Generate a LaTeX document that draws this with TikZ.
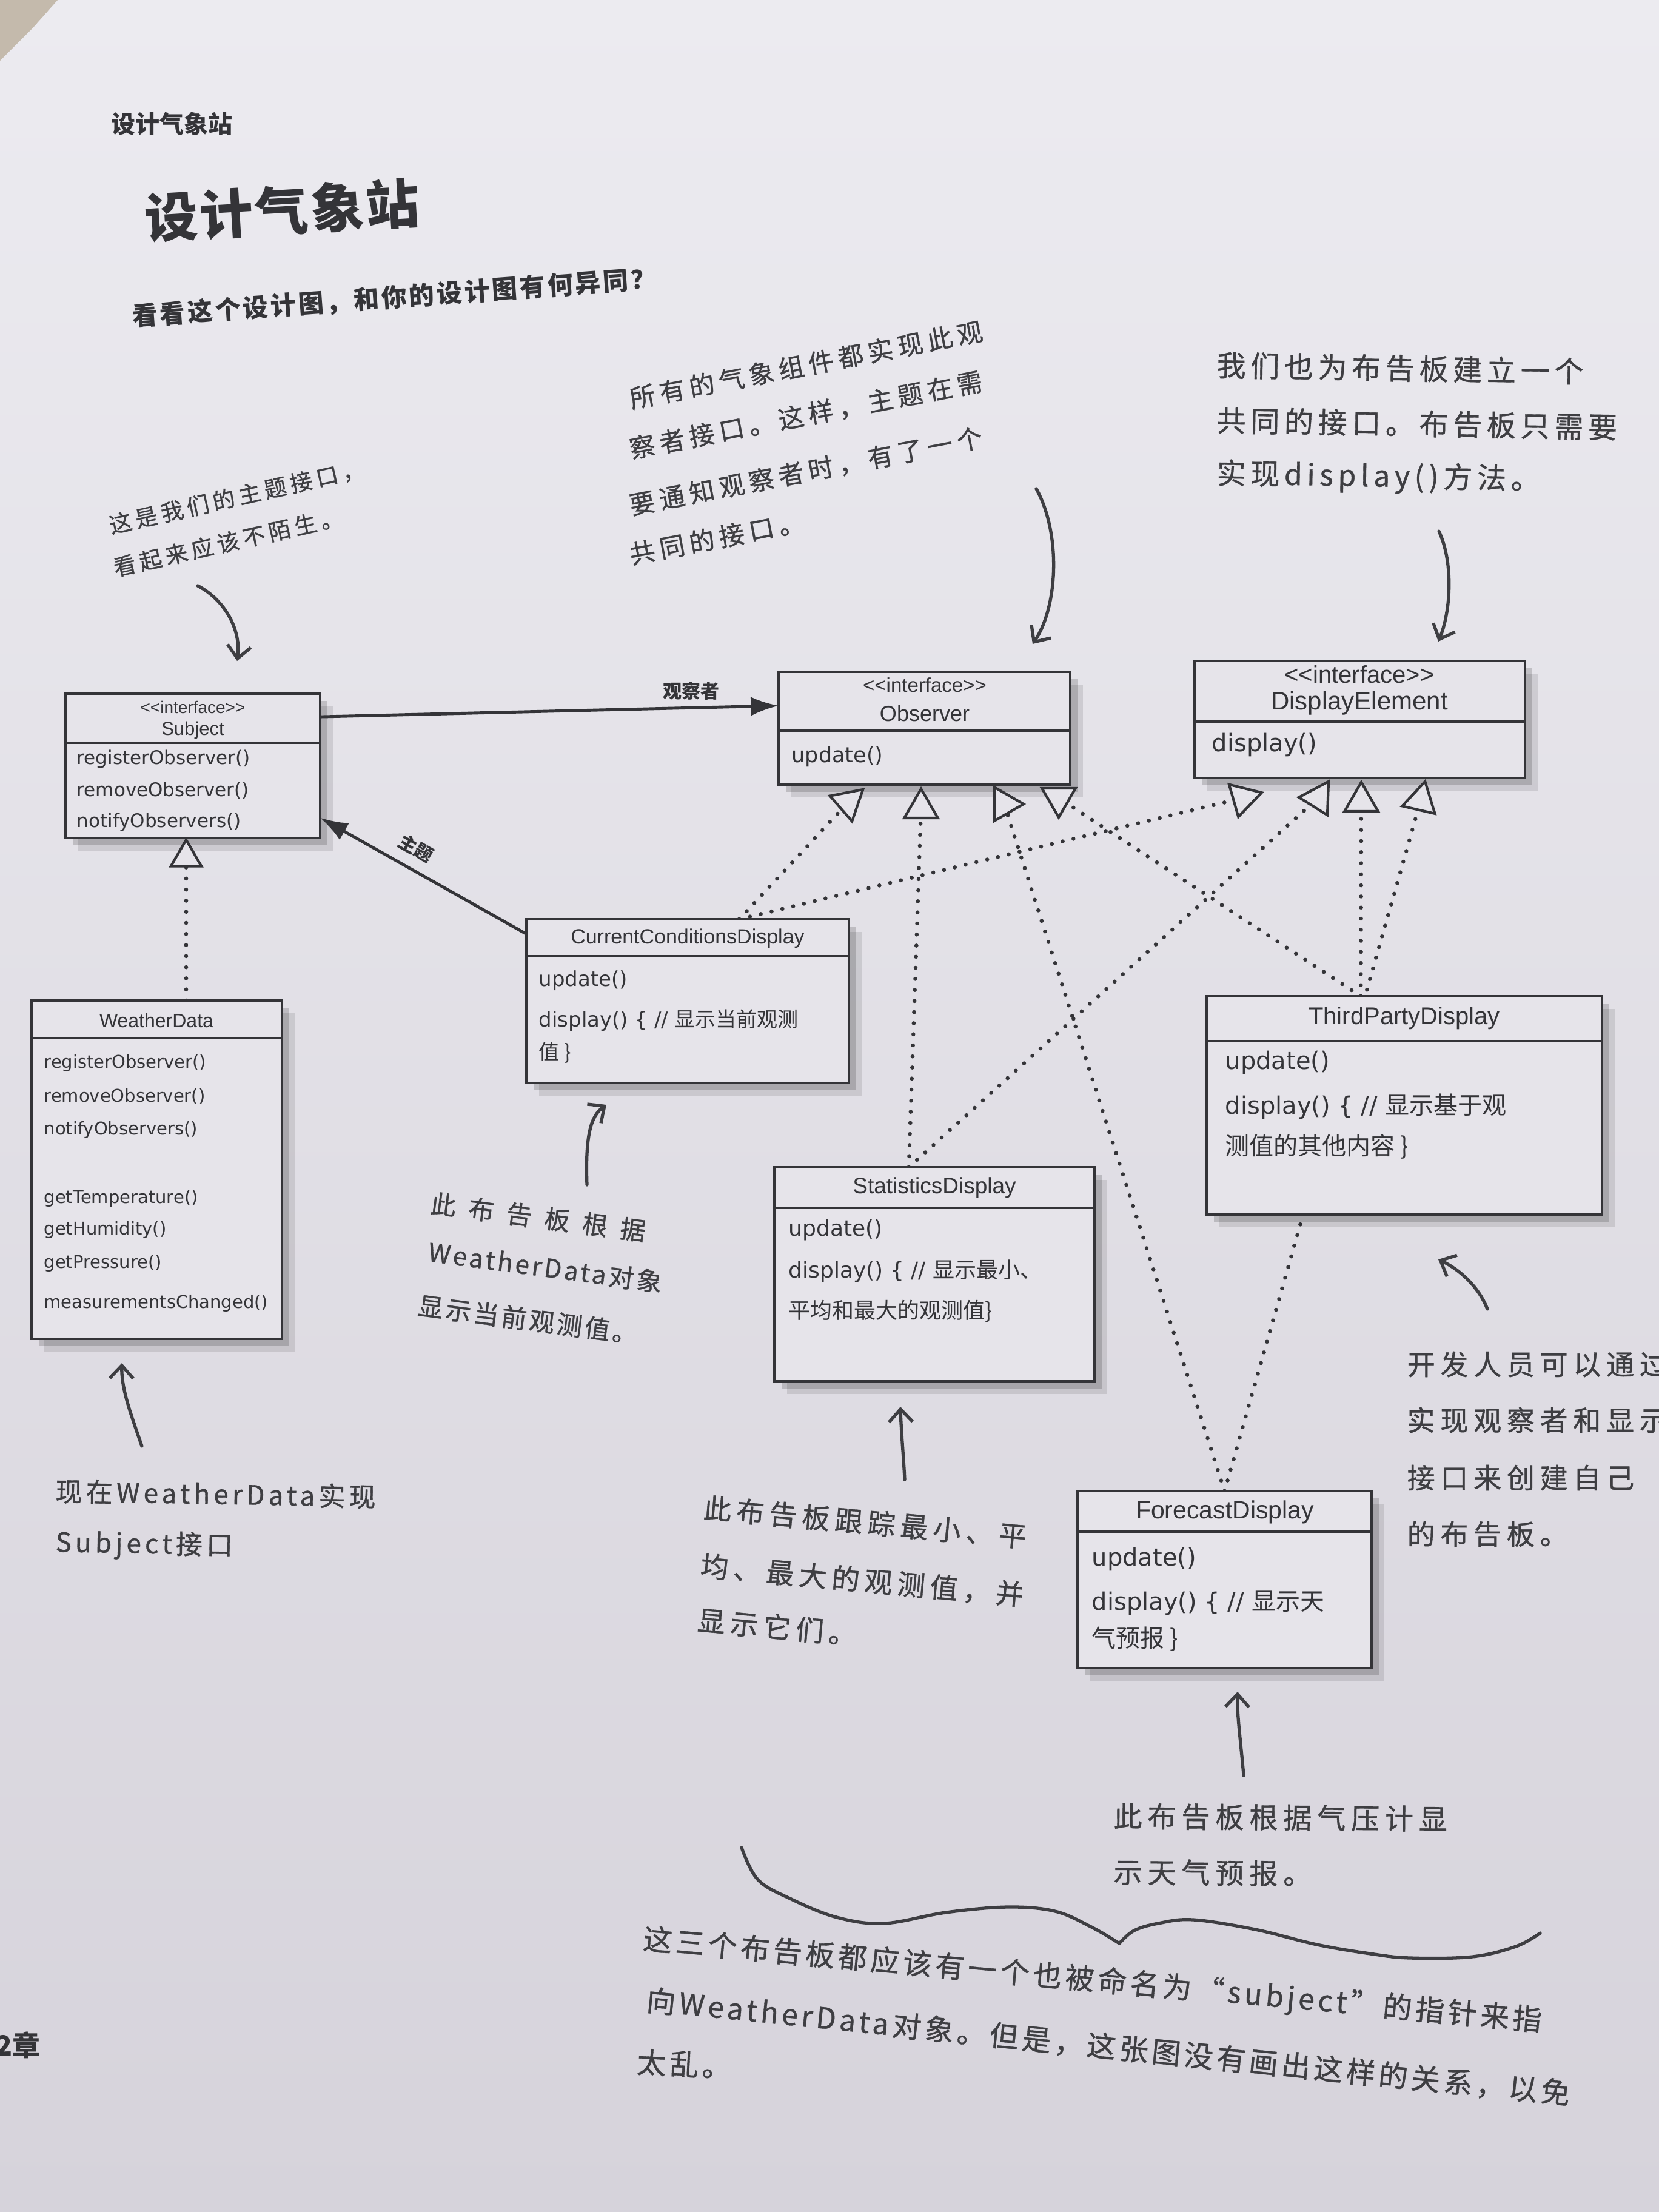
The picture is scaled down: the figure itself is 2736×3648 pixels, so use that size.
\documentclass[tikz,border=0pt]{standalone}
\usepackage{fontspec}
\setmainfont{Liberation Sans}
\newfontfamily\cjk{Noto Sans CJK SC}
\newfontfamily\methf{DejaVu Sans}
\usetikzlibrary{arrows.meta,calc,shapes.geometric,shadows}
\pgfdeclarelayer{back}
\pgfdeclarelayer{lines}
\pgfsetlayers{back,lines,main}
\newlength\upx
\setlength\upx{0.01cm}
\newcommand\pxs[1]{\fontsize{#1\upx}{#1\upx}\selectfont}
\definecolor{ink}{RGB}{52,52,56}
\definecolor{handink}{RGB}{62,62,66}
\definecolor{bgtop}{RGB}{236,235,240}
\definecolor{bgbot}{RGB}{214,211,219}
\definecolor{boxfill}{RGB}{230,228,234}
\definecolor{edge}{RGB}{196,186,172}
\tikzset{
  classbox/.style={draw=ink, line width=1pt, fill=boxfill, rectangle, inner sep=0pt, outer sep=0pt, anchor=north west,
    drop shadow={shadow xshift=6pt, shadow yshift=-6pt, opacity=0.10, fill=black},
    drop shadow={shadow xshift=3.5pt, shadow yshift=-3.5pt, opacity=0.16, fill=black}},
  divider/.style={draw=ink, line width=1pt},
  ttl/.style={inner sep=0pt, text=ink},
  mth/.style={inner sep=0pt, text=ink, anchor=west},
  realize/.style={draw=ink, line width=1.9pt, line cap=round, dash pattern=on 0pt off 5.2pt},
  tri/.style={regular polygon, regular polygon sides=3, draw=ink, line width=1.2pt, fill=boxfill, inner sep=0pt, minimum size=64\upx},
  assoc/.style={draw=ink, line width=1.4pt, -{Latex[length=13pt,width=9pt]}},
  harrow/.style={draw=handink, line width=1.5pt, line cap=round, line join=round, -{Straight Barb[length=6pt,width=11pt,line width=1.5pt]}},
  hand/.style 2 args={inner sep=0pt, anchor=west, text=handink, font=\cjk\pxs{#1}\addfontfeatures{LetterSpace=#2,FakeBold=0.8}},
}
\begin{document}
\begin{tikzpicture}[x=0.01cm,y=-0.01cm]
\useasboundingbox (0,0) rectangle (2736,3648);
\begin{pgfonlayer}{back}
\shade[top color=bgtop, bottom color=bgbot] (0,0) rectangle (2736,3648);
\fill[edge] (0,0) -- (95,0) -- (55,45) -- (0,100) -- cycle;
\end{pgfonlayer}

% ---------- headings ----------
\node[ttl, font=\cjk\bfseries\pxs{40}] (hdr) at (283,204) {设计气象站};
\node[ttl, font=\cjk\bfseries\pxs{88}\addfontfeatures{LetterSpace=4}, rotate=3.4] (title) at (465,347) {设计气象站};
\node[ttl, font=\cjk\bfseries\pxs{42}\addfontfeatures{LetterSpace=9}, rotate=4.2] (subtitle) at (650,491) {看看这个设计图，和你的设计图有何异同？};
\node[ttl, anchor=west, font=\cjk\bfseries\pxs{46}] (pg) at (-8,3373) {2章};

% ---------- handwritten notes ----------
\node[hand={37}{18}, rotate=12.8] (a1a) at (180,867) {这是我们的主题接口，};
\node[hand={37}{18}, rotate=12.8] (a1b) at (187,937) {看起来应该不陌生。};

\node[hand={42}{19}, rotate=11] (a2a) at (1038,658) {所有的气象组件都实现此观};
\node[hand={42}{19}, rotate=11] (a2b) at (1038,741) {察者接口。这样，主题在需};
\node[hand={42}{19}, rotate=11] (a2c) at (1038,834) {要通知观察者时，有了一个};
\node[hand={42}{19}, rotate=11] (a2d) at (1038,915) {共同的接口。};

\node[hand={48}{16}, rotate=-1] (a3a) at (2006,602) {我们也为布告板建立一个};
\node[hand={48}{16}, rotate=-1] (a3b) at (2006,693) {共同的接口。布告板只需要};
\node[hand={48}{16}, rotate=-1] (a3c) at (2006,783) {实现display()方法。};

\node[hand={42}{50}, rotate=-7.5] (a4a) at (710,1984) {此布告板根据};
\node[hand={42}{10}, rotate=-7.5] (a4b) at (706,2064) {WeatherData对象};
\node[hand={42}{10}, rotate=-7.5] (a4c) at (689,2152) {显示当前观测值。};

\node[hand={44}{14}, rotate=-1] (a5a) at (91,2459) {现在WeatherData实现};
\node[hand={44}{14}, rotate=-1] (a5b) at (91,2546) {Subject接口};

\node[hand={46}{18}, rotate=-5.2] (a6a) at (1160,2486) {此布告板跟踪最小、平};
\node[hand={46}{18}, rotate=-5.2] (a6b) at (1155,2582) {均、最大的观测值，并};
\node[hand={46}{18}, rotate=-5.2] (a6c) at (1150,2671) {显示它们。};

\node[hand={47}{19}, rotate=-0.5] (a7a) at (1836,2995) {此布告板根据气压计显};
\node[hand={47}{19}, rotate=-0.5] (a7b) at (1836,3087) {示天气预报。};

\node[hand={46}{19}] (a8a) at (2320,2250) {开发人员可以通过};
\node[hand={46}{19}] (a8b) at (2320,2342) {实现观察者和显示};
\node[hand={46}{19}] (a8c) at (2320,2437) {接口来创建自己};
\node[hand={46}{19}] (a8d) at (2320,2530) {的布告板。};

\node[hand={48}{12}, rotate=-5.2] (a9a) at (1060,3200) {这三个布告板都应该有一个也被命名为“subject”的指针来指};
\node[hand={48}{12}, rotate=-5.8] (a9b) at (1066,3298) {向WeatherData对象。但是，这张图没有画出这样的关系，以免};
\node[hand={48}{12}, rotate=-3] (a9c) at (1050,3400) {太乱。};

% wavy brace
\draw[handink, line width=1.5pt, line cap=round, line join=round] plot[smooth, tension=0.6] coordinates {(1223,3047) (1250,3100) (1305,3132) (1380,3162) (1458,3172) (1560,3154) (1662,3145) (1740,3152) (1800,3178) (1846,3205)};
\draw[handink, line width=1.5pt, line cap=round, line join=round] plot[smooth, tension=0.6] coordinates {(1846,3205) (1870,3184) (1910,3172) (1968,3166) (2070,3182) (2172,3207) (2260,3222) (2326,3229) (2428,3227) (2500,3210) (2540,3188)};

% hand arrows
\coordinate (h1s) at (326,966);   \coordinate (h1e) at (391,1090);
\coordinate (h2s) at (1709,806);  \coordinate (h2e) at (1703,1062);
\coordinate (h3s) at (2373,876);  \coordinate (h3e) at (2372,1058);
\coordinate (h4s) at (968,1954);  \coordinate (h4e) at (1000,1822);
\coordinate (h5s) at (234,2385);  \coordinate (h5e) at (201,2248);
\coordinate (h6s) at (1492,2440); \coordinate (h6e) at (1485,2320);
\coordinate (h7s) at (2051,2928); \coordinate (h7e) at (2041,2790);
\coordinate (h8s) at (2453,2159); \coordinate (h8e) at (2372,2077);
\draw[harrow] (h1s) .. controls (372,990) and (398,1040) .. (h1e);
\draw[harrow] (h2s) .. controls (1750,880) and (1745,1000) .. (h2e);
\draw[harrow] (h3s) .. controls (2398,930) and (2392,1010) .. (h3e);
\draw[harrow] (h4s) .. controls (965,1870) and (975,1840) .. (h4e);
\draw[harrow] (h5s) .. controls (215,2330) and (200,2290) .. (h5e);
\draw[harrow] (h6s) .. controls (1490,2400) and (1486,2360) .. (h6e);
\draw[harrow] (h7s) .. controls (2046,2870) and (2040,2830) .. (h7e);
\draw[harrow] (h8s) .. controls (2440,2125) and (2410,2095) .. (h8e);

% ---------- class boxes ----------
% Subject
\node[classbox, minimum width=420\upx, minimum height=238\upx] (subj) at (108,1144) {};
\draw[divider] ($(subj.north west)+(0,81)$) -- ($(subj.north east)+(0,81)$);
\node[ttl, font=\pxs{28}] (subjst) at (318,1166) {<\kern0pt<interface>\kern0pt>};
\node[ttl, font=\pxs{31}] (subjnm) at (318,1204) {Subject};
\node[mth, font=\methf\pxs{31}] (subjm1) at (126,1252) {registerObserver()};
\node[mth, font=\methf\pxs{31}] (subjm2) at (126,1304) {removeObserver()};
\node[mth, font=\methf\pxs{31}] (subjm3) at (126,1356) {notifyObservers()};

% WeatherData
\node[classbox, minimum width=413\upx, minimum height=558\upx] (wd) at (52,1650) {};
\draw[divider] ($(wd.north west)+(0,62)$) -- ($(wd.north east)+(0,62)$);
\node[ttl, font=\pxs{32}] (wdnm) at (258,1683) {WeatherData};
\node[mth, font=\methf\pxs{29}] (wdm1) at (72,1753) {registerObserver()};
\node[mth, font=\methf\pxs{29}] (wdm2) at (72,1808) {removeObserver()};
\node[mth, font=\methf\pxs{29}] (wdm3) at (72,1863) {notifyObservers()};
\node[mth, font=\methf\pxs{29}] (wdm4) at (72,1976) {getTemperature()};
\node[mth, font=\methf\pxs{29}] (wdm5) at (72,2028) {getHumidity()};
\node[mth, font=\methf\pxs{29}] (wdm6) at (72,2083) {getPressure()};
\node[mth, font=\methf\pxs{29}] (wdm7) at (72,2149) {measurementsChanged()};

% Observer
\node[classbox, minimum width=481\upx, minimum height=186\upx] (obs) at (1284,1108) {};
\draw[divider] ($(obs.north west)+(0,97)$) -- ($(obs.north east)+(0,97)$);
\node[ttl, font=\pxs{33}] (obsst) at (1525,1130) {<\kern0pt<interface>\kern0pt>};
\node[ttl, font=\pxs{36}] (obsnm) at (1525,1177) {Observer};
\node[mth, font=\methf\pxs{35}] (obsm1) at (1305,1248) {update()};

% DisplayElement
\node[classbox, minimum width=545\upx, minimum height=193\upx] (de) at (1970,1090) {};
\draw[divider] ($(de.north west)+(0,100)$) -- ($(de.north east)+(0,100)$);
\node[ttl, font=\pxs{40}] (dest) at (2242,1112) {<\kern0pt<interface>\kern0pt>};
\node[ttl, font=\pxs{42}] (denm) at (2242,1160) {DisplayElement};
\node[mth, font=\methf\pxs{40}] (dem1) at (1998,1228) {display()};

% CurrentConditionsDisplay
\node[classbox, minimum width=532\upx, minimum height=270\upx] (ccd) at (868,1516) {};
\draw[divider] ($(ccd.north west)+(0,61)$) -- ($(ccd.north east)+(0,61)$);
\node[ttl, font=\pxs{34}] (ccdnm) at (1134,1548) {CurrentConditionsDisplay};
\node[mth, font=\methf\pxs{34}] (ccdm1) at (888,1617) {update()};
\node[mth, font=\methf\pxs{34}] (ccdm2) at (888,1683) {display() \{ // {\cjk 显示当前观测}};
\node[mth, font=\cjk\pxs{34}] (ccdm3) at (888,1736) {值 \}};

% ThirdPartyDisplay
\node[classbox, minimum width=652\upx, minimum height=360\upx] (tpd) at (1990,1643) {};
\draw[divider] ($(tpd.north west)+(0,74)$) -- ($(tpd.north east)+(0,74)$);
\node[ttl, font=\pxs{40}] (tpdnm) at (2316,1679) {ThirdPartyDisplay};
\node[mth, font=\methf\pxs{40}] (tpdm1) at (2020,1752) {update()};
\node[mth, font=\methf\pxs{40}] (tpdm2) at (2020,1825) {display() \{ // {\cjk 显示基于观}};
\node[mth, font=\cjk\pxs{40}] (tpdm3) at (2020,1891) {测值的其他内容 \}};

% StatisticsDisplay
\node[classbox, minimum width=528\upx, minimum height=353\upx] (sd) at (1277,1925) {};
\draw[divider] ($(sd.north west)+(0,67)$) -- ($(sd.north east)+(0,67)$);
\node[ttl, font=\pxs{37}] (sdnm) at (1541,1959) {StatisticsDisplay};
\node[mth, font=\methf\pxs{36}] (sdm1) at (1300,2029) {update()};
\node[mth, font=\methf\pxs{36}] (sdm2) at (1300,2096) {display() \{ // {\cjk 显示最小、}};
\node[mth, font=\cjk\pxs{36}] (sdm3) at (1300,2162) {平均和最大的观测值\}};

% ForecastDisplay
\node[classbox, minimum width=485\upx, minimum height=292\upx] (fd) at (1777,2459) {};
\draw[divider] ($(fd.north west)+(0,67)$) -- ($(fd.north east)+(0,67)$);
\node[ttl, font=\pxs{41}] (fdnm) at (2020,2494) {ForecastDisplay};
\node[mth, font=\methf\pxs{40}] (fdm1) at (1800,2571) {update()};
\node[mth, font=\methf\pxs{40}] (fdm2) at (1800,2644) {display() \{ // {\cjk 显示天}};
\node[mth, font=\cjk\pxs{40}] (fdm3) at (1800,2703) {气预报 \}};

% ---------- realization triangles ----------
\node[tri, minimum size=58\upx] (t0) at (307,1414) {};
\node[tri, rotate=-49] (t1) at (1399,1323) {};
\node[tri] (t2) at (1519,1333) {};
\node[tri, rotate=-90] (t3) at (1656,1326) {};
\node[tri, rotate=180] (t4) at (1746,1316) {};
\node[tri, rotate=-74] (t5) at (2050,1316) {};
\node[tri, rotate=-32] (t6) at (2174,1316) {};
\node[tri] (t7) at (2245,1322) {};
\node[tri, rotate=-13] (t8) at (2343,1320) {};

% anchor points on the implementing classes
\coordinate (wdtop) at (wd.north -| t0.center);
\coordinate (ccdtop) at ($(ccd.north west)!0.66!(ccd.north east)$);
\coordinate (sdtop) at ($(sd.north west)!0.42!(sd.north east)$);
\coordinate (tpdtop) at ($(tpd.north west)!0.39!(tpd.north east)$);
\coordinate (fdtop) at ($(fd.north west)!0.5!(fd.north east)$);

\begin{pgfonlayer}{lines}
\draw[realize] (wdtop) -- (t0.center);
\draw[realize] (ccdtop) -- (t1.center);
\draw[realize] (ccdtop) -- (t5.center);
\draw[realize] (sdtop) -- (t2.center);
\draw[realize] (sdtop) -- (t6.center);
\draw[realize] (fdtop) -- (t3.center);
\draw[realize] (fdtop) -- (t8.center);
\draw[realize] (tpdtop) -- (t4.center);
\draw[realize] (tpdtop) -- (t7.center);
\end{pgfonlayer}

% ---------- associations ----------
\draw[assoc] ($(subj.north east)!0.16!(subj.south east)$) -- ($(obs.north west)!0.3!(obs.south west)$);
\draw[assoc] ($(ccd.north west)!0.09!(ccd.south west)$) -- ($(subj.north east)!0.86!(subj.south east)$);
\node[ttl, font=\cjk\bfseries\pxs{31}] (lblobs) at (1140,1140) {观察者};
\node[ttl, font=\cjk\bfseries\pxs{30}, rotate=-29.7] (lblsubj) at (686,1399) {主题};
\end{tikzpicture}
\end{document}
